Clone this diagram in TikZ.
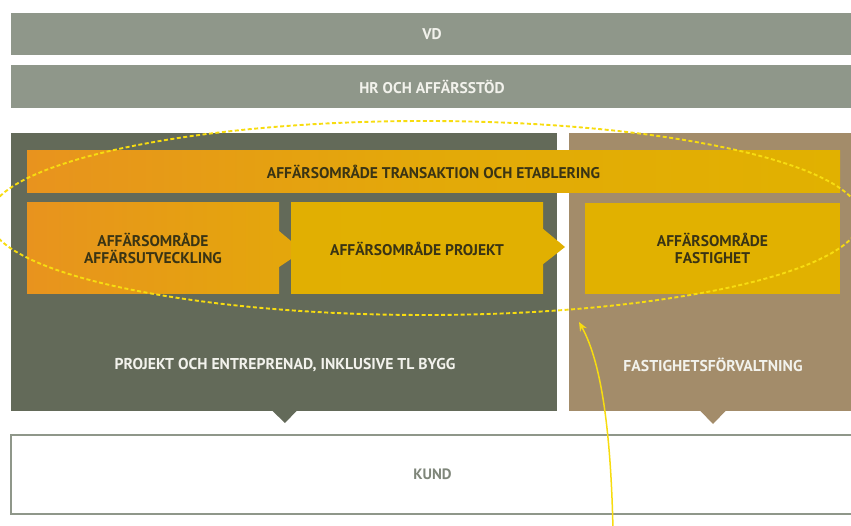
\documentclass[tikz,border=0pt]{standalone}
\usepackage{fontspec}
\setmainfont{PT Sans}
\usetikzlibrary{arrows.meta}
\definecolor{bargray}{HTML}{8F978A}
\definecolor{pegreen}{HTML}{636A59}
\definecolor{fmtan}{HTML}{A38C6A}
\definecolor{orangeL}{HTML}{E8931E}
\definecolor{orangeM}{HTML}{E4A60C}
\definecolor{goldY}{HTML}{E1B100}
\definecolor{darktxt}{HTML}{3A3414}
\definecolor{lighttxt}{HTML}{F2F2EC}
\definecolor{kundtxt}{HTML}{7F867A}
\definecolor{ellY}{HTML}{F7DC10}
\tikzset{
  topbar/.style={fill=bargray, draw=none, inner sep=0pt, font=\fontsize{15.5}{18}\selectfont\bfseries, text=lighttxt},
  panel/.style={draw=none, inner sep=0pt},
  areabox/.style={draw=none, inner sep=0pt, font=\fontsize{15.5}{17.5}\selectfont\bfseries, text=darktxt, align=center},
  panellabel/.style={font=\fontsize{15.7}{18}\selectfont\bfseries, text=lighttxt, inner sep=0pt},
  ellipsestyle/.style={draw=ellY, line width=1.9pt, dash pattern=on 4pt off 2.5pt},
  yarrow/.style={draw=ellY, line width=1.5pt, -{Stealth[length=9pt,width=7.5pt]}}
}
\begin{document}
\begin{tikzpicture}[x=1pt,y=-1pt]
\useasboundingbox (0,0) rectangle (851,526);
% top bars
\node[topbar, minimum width=842pt, minimum height=42pt] (vd) at (432,34) {VD};
\node[topbar, minimum width=842pt, minimum height=43pt] (hr) at (432,86.5) {HR OCH AFFÄRSSTÖD};
% panels
\node[panel, fill=pegreen, minimum width=546pt, minimum height=278pt] (pe) at (284,272) {};
\node[panel, fill=fmtan, minimum width=284pt, minimum height=278pt] (fm) at (711,272) {};
\fill[pegreen] (272,410.5) -- (297,410.5) -- (285,423) -- cycle;
\fill[fmtan] (700,410.5) -- (726,410.5) -- (713,424) -- cycle;
% kund
\node[draw=bargray, line width=1.4pt, fill=white, minimum width=843pt, minimum height=79pt, inner sep=0pt,
  font=\fontsize{15}{18}\selectfont\bfseries, text=kundtxt] (kund) at (432.5,474.5) {KUND};
% transaction bar
\node[areabox, left color=orangeL, right color=goldY, middle color=orangeM!70!goldY, minimum width=813pt, minimum height=42pt] (trans) at (433.5,172) {AFFÄRSOMRÅDE TRANSAKTION OCH ETABLERING};
% box 1 with tip
\fill[orangeM] (279,231) -- (291,241) -- (291,259) -- (279,267) -- cycle;
\node[areabox, left color=orangeL, right color=orangeM, minimum width=252pt, minimum height=91pt] (utv) at (153,248.5) {AFFÄRSOMRÅDE\\AFFÄRSUTVECKLING};
% box 2 with tip
\fill[goldY!92!orangeM] (542,228) -- (565,247) -- (542,265) -- cycle;
\node[areabox, left color=goldY!85!orangeM, right color=goldY!92!orangeM, minimum width=252pt, minimum height=91pt] (proj) at (417,248.5) {AFFÄRSOMRÅDE PROJEKT};
% box 3
\node[areabox, fill=goldY, minimum width=255pt, minimum height=91pt] (fast) at (712.5,248.5) {AFFÄRSOMRÅDE\\FASTIGHET};
% panel labels
\node[panellabel] (pelabel) at (285,365) {PROJEKT OCH ENTREPRENAD, INKLUSIVE TL BYGG};
\node[panellabel] (fmlabel) at (713,365) {FASTIGHETSFÖRVALTNING};
% ellipse
\draw[ellipsestyle] (425,218) ellipse [x radius=436, y radius=97];
% curved arrow
\coordinate (arrstart) at (613,530);
\coordinate (arrend) at (579,322);
\draw[yarrow] (arrstart) .. controls (611,440) and (603,365) .. (arrend);
\end{tikzpicture}
\end{document}
